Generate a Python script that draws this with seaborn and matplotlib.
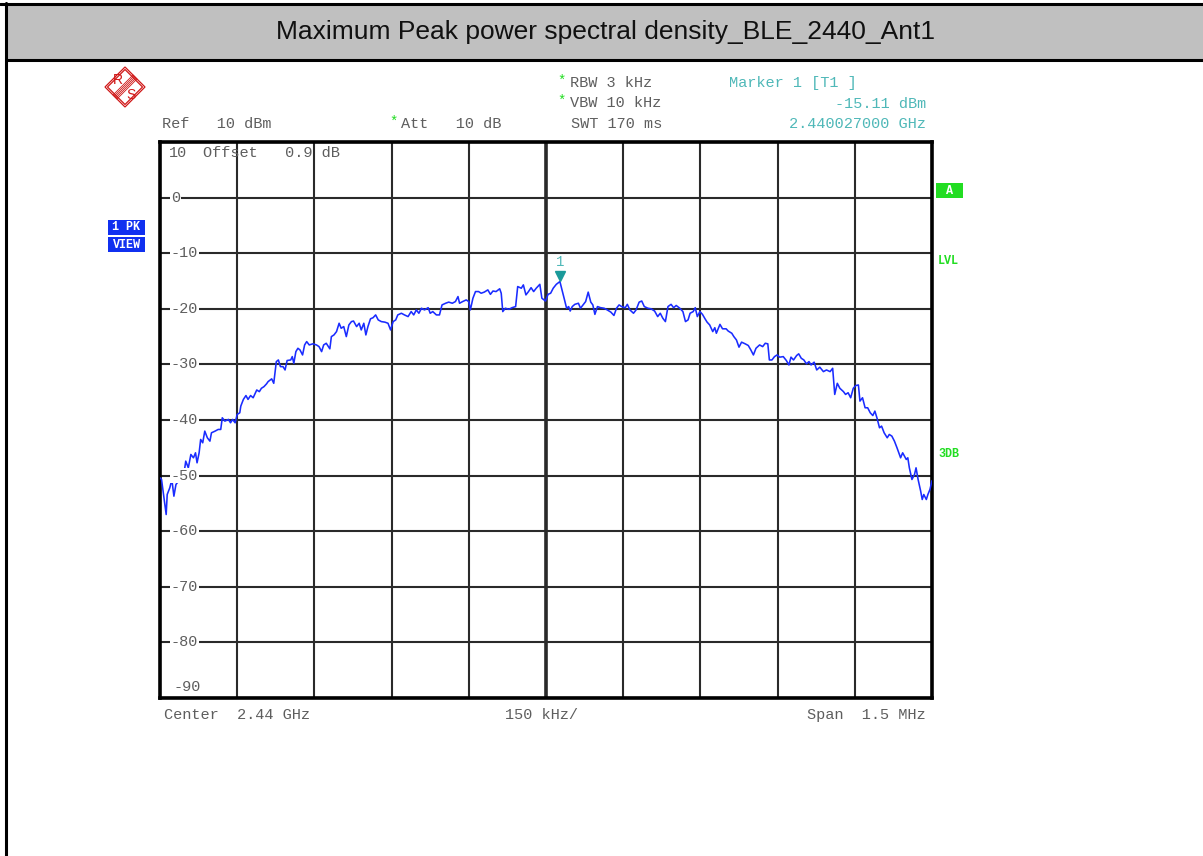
import numpy as np
import seaborn as sns
import matplotlib.pyplot as plt
from matplotlib.patches import Rectangle, Polygon
from matplotlib.lines import Line2D
from matplotlib.transforms import blended_transform_factory, offset_copy

# offset from the 2.44 GHz centre, kHz
freq_khz = [
    -750, -747, -738, -736, -731, -727, -723, -719, -714, -710,
    -705, -700, -695, -690, -685, -681, -678, -674, -671, -667,
    -663, -658, -653, -650, -643, -637, -632, -629, -624, -617,
    -613, -609, -604, -600, -595, -593, -588, -583, -579, -574,
    -569, -562, -557, -553, -548, -543, -540, -533, -529, -524,
    -520, -516, -511, -507, -503, -496, -493, -490, -486, -482,
    -478, -473, -469, -465, -460, -453, -446, -441, -436, -432,
    -427, -420, -417, -412, -407, -402, -398, -393, -388, -383,
    -378, -374, -368, -363, -359, -354, -350, -346, -341, -336,
    -331, -326, -320, -313, -307, -302, -297, -292, -288, -281,
    -275, -268, -262, -257, -252, -247, -242, -236, -229, -225,
    -220, -213, -207, -202, -195, -189, -182, -176, -171, -168,
    -162, -155, -150, -147, -142, -137, -131, -126, -120, -113,
    -108, -103, -97, -90, -87, -84, -79, -72, -66, -59,
    -55, -48, -44, -39, -34, -29, -24, -19, -12, -8,
    -1, 4, 9, 14, 20, 27, 32, 36, 40, 44,
    47, 51, 56, 63, 67, 72, 77, 82, 87, 91,
    95, 100, 106, 113, 119, 126, 132, 137, 142, 147,
    154, 158, 163, 170, 175, 181, 186, 191, 198, 204,
    211, 217, 222, 227, 232, 237, 243, 248, 253, 260,
    266, 271, 276, 280, 286, 290, 294, 299, 304, 309,
    313, 318, 324, 328, 331, 338, 343, 350, 354, 361,
    365, 370, 375, 380, 387, 393, 398, 403, 408, 415,
    421, 426, 431, 434, 439, 444, 449, 454, 461, 467,
    472, 476, 481, 487, 491, 496, 501, 506, 511, 515,
    521, 526, 532, 539, 545, 552, 557, 561, 566, 571,
    578, 582, 587, 592, 597, 602, 607, 610, 615, 620,
    625, 630, 635, 639, 643, 648, 652, 657, 663, 667,
    672, 677, 682, 689, 693, 700, 703, 706, 711, 716,
    719, 723, 728, 731, 734, 739, 742, 746, 750,
]

# trace 1, max peak, dBm
level_dbm = [
    -50.4, -50.7, -57.0, -53.4, -52.2, -50.7, -53.7, -51.6, -51.0, -50.1,
    -50.7, -47.4, -48.6, -46.2, -46.8, -45.9, -47.7, -45.9, -43.5, -44.1,
    -42.0, -43.2, -43.8, -42.3, -42.0, -41.7, -41.7, -39.6, -40.2, -39.9,
    -40.5, -39.9, -40.5, -39.0, -38.7, -37.5, -36.3, -35.6, -36.3, -35.6,
    -36.0, -34.6, -34.9, -34.3, -34.0, -33.5, -33.1, -32.6, -33.4, -29.5,
    -29.2, -30.4, -30.4, -31.0, -29.3, -29.2, -28.6, -29.8, -27.7, -27.1,
    -27.4, -28.3, -26.5, -25.9, -26.5, -26.3, -26.5, -26.8, -27.7, -26.5,
    -26.2, -27.2, -25.0, -24.7, -24.1, -22.6, -23.5, -23.2, -25.0, -22.9,
    -22.3, -22.2, -23.2, -22.6, -23.8, -22.6, -24.7, -23.2, -21.8, -21.6,
    -21.1, -22.0, -22.3, -22.4, -22.6, -23.8, -22.3, -22.0, -21.1, -20.8,
    -21.1, -21.4, -20.5, -21.1, -20.2, -20.8, -19.9, -20.2, -19.8, -20.8,
    -20.5, -21.1, -21.1, -19.3, -19.0, -18.8, -19.0, -18.7, -17.8, -19.0,
    -18.7, -18.4, -18.7, -20.2, -18.1, -16.9, -16.9, -17.2, -17.0, -16.6,
    -17.4, -16.8, -16.9, -16.4, -17.2, -20.5, -19.9, -20.1, -19.8, -19.6,
    -16.0, -16.3, -15.7, -17.5, -16.9, -16.2, -16.9, -16.3, -15.6, -18.1,
    -18.6, -17.4, -17.2, -16.3, -15.6, -15.1, -16.9, -18.4, -19.9, -19.6,
    -20.4, -19.6, -19.2, -19.0, -19.9, -19.3, -18.7, -17.0, -18.8, -19.3,
    -21.0, -19.6, -19.8, -19.9, -20.2, -20.6, -21.2, -19.9, -19.3, -19.6,
    -19.8, -19.2, -20.2, -20.8, -20.2, -18.8, -18.6, -19.6, -19.9, -20.0,
    -20.4, -21.4, -20.8, -21.7, -22.3, -19.6, -19.2, -19.8, -19.4, -19.9,
    -20.5, -22.3, -22.0, -20.8, -20.5, -19.8, -21.4, -20.5, -21.0, -21.8,
    -22.4, -22.9, -24.1, -23.4, -24.4, -22.8, -23.6, -23.6, -24.0, -24.4,
    -25.0, -25.6, -26.9, -26.0, -26.3, -26.6, -27.4, -28.3, -27.1, -26.5,
    -26.8, -26.2, -26.3, -29.2, -29.2, -28.6, -28.3, -28.7, -28.6, -29.3,
    -30.1, -28.7, -29.2, -28.4, -28.1, -28.9, -29.2, -29.9, -29.5, -30.1,
    -29.6, -31.0, -30.5, -31.3, -31.0, -31.3, -30.7, -35.4, -33.4, -34.3,
    -34.9, -35.4, -35.1, -36.0, -34.3, -33.8, -33.7, -36.6, -36.0, -37.8,
    -37.8, -38.7, -39.2, -38.4, -39.6, -41.4, -41.1, -42.3, -43.2, -42.6,
    -42.9, -43.8, -45.0, -46.8, -45.9, -47.1, -46.8, -48.6, -50.7, -49.8,
    -48.6, -50.7, -52.8, -54.3, -53.4, -54.3, -53.4, -52.5, -50.9,
]

y_ticks = [10, 0, -10, -20, -30, -40, -50, -60, -70, -80, -90]
x_ticks = list(range(-750, 751, 150))

W, H = 1203, 856
mono = ["Liberation Mono", "DejaVu Sans Mono"]
grey_txt = "#5e5e5e"
teal = "#4fb8b8"
green = "#22dd22"
blue = "#1030f0"

sns.set_style("white")
plt.rcParams["font.family"] = ["Liberation Sans", "DejaVu Sans"]

fig = plt.figure(figsize=(W / 100, H / 100), dpi=100)
fig.patch.set_facecolor("white")


def fx(px):
    return px / W


def fy(py):
    return 1 - py / H


# title bar and frame
fig.patches.append(Rectangle((fx(6), fy(59)), fx(W) - fx(6), fy(4) - fy(59),
                             transform=fig.transFigure, facecolor="#c0c0c0",
                             edgecolor="none", zorder=0))
fig.lines.append(Line2D([0, 1], [fy(3.5), fy(3.5)], transform=fig.transFigure, color="black", lw=2.2))
fig.lines.append(Line2D([fx(6), 1], [fy(59.5), fy(59.5)], transform=fig.transFigure, color="black", lw=2.2))
fig.lines.append(Line2D([fx(6), fx(6)], [fy(3), 0], transform=fig.transFigure, color="black", lw=2.2))
fig.text(fx(606), fy(32), "Maximum Peak power spectral density_BLE_2440_Ant1",
         ha="center", va="center", fontsize=19, color="#111111")

ax = fig.add_axes([fx(160), fy(698), fx(932) - fx(160), fy(142) - fy(698)])
sns.lineplot(x=freq_khz, y=level_dbm, ax=ax, sort=False, estimator=None,
             color="#1a2cff", lw=1.15, zorder=4)

ax.set_xlim(-750, 750)
ax.set_ylim(-90, 10)
ax.set_xticks(x_ticks)
ax.set_yticks(y_ticks)
ax.set_xticklabels([])
ax.set_yticklabels([])
ax.tick_params(length=0)
ax.grid(True, color="#2a2a2a", lw=1.5)
ax.axvline(0, color="#2a2a2a", lw=2.6, zorder=2)
for s in ax.spines.values():
    s.set_color("black")
    s.set_linewidth(2.6)

# level labels sit inside the grid
trans = blended_transform_factory(ax.transAxes, ax.transData)
for v in y_ticks:
    if v == 10:
        ax.text(0.012, v - 2.0, str(v), transform=trans, ha="left", va="center",
                family=mono, fontsize=11, color=grey_txt, zorder=5)
    elif v == -90:
        ax.text(0.018, v + 1.9, str(v), transform=trans, ha="left", va="center",
                family=mono, fontsize=11, color=grey_txt, zorder=5)
    else:
        ax.text(0.014, v, str(v), transform=trans, ha="left", va="center",
                family=mono, fontsize=11, color=grey_txt, zorder=5,
                bbox=dict(facecolor="white", edgecolor="none", pad=0.6))
ax.text(0.056, 8.0, "Offset   0.9 dB", transform=trans, ha="left", va="center",
        family=mono, fontsize=11, color=grey_txt, zorder=5)

# marker 1 on the trace maximum
i_pk = int(np.argmax(level_dbm))
ax.plot([freq_khz[i_pk]], [level_dbm[i_pk]], marker="v", ms=6.5, color="#1a9a9a", ls="none",
        zorder=6, transform=offset_copy(ax.transData, fig=fig, y=4, units="points"))
ax.annotate("1", xy=(freq_khz[i_pk], level_dbm[i_pk]), xytext=(0, 14), textcoords="offset points",
            ha="center", va="center", family=mono, fontsize=10, color=teal, zorder=6)

# header settings
hdr = dict(family=mono, fontsize=11, va="center")
fig.text(fx(162), fy(124), "Ref   10 dBm", color=grey_txt, **hdr)
fig.text(fx(389), fy(122), "*", color=green, family=mono, fontsize=10, va="center")
fig.text(fx(401), fy(124), "Att   10 dB", color=grey_txt, **hdr)
fig.text(fx(557), fy(81), "*", color=green, family=mono, fontsize=10, va="center")
fig.text(fx(570), fy(83), "RBW 3 kHz", color=grey_txt, **hdr)
fig.text(fx(557), fy(101), "*", color=green, family=mono, fontsize=10, va="center")
fig.text(fx(570), fy(103), "VBW 10 kHz", color=grey_txt, **hdr)
fig.text(fx(571), fy(124), "SWT 170 ms", color=grey_txt, **hdr)
fig.text(fx(729), fy(83), "Marker 1 [T1 ]", color=teal, **hdr)
fig.text(fx(926), fy(104), "-15.11 dBm", color=teal, ha="right", **hdr)
fig.text(fx(926), fy(124), "2.440027000 GHz", color=teal, ha="right", **hdr)

# footer
fig.text(fx(164), fy(715), "Center  2.44 GHz", color=grey_txt, **hdr)
fig.text(fx(505), fy(715), "150 kHz/", color=grey_txt, **hdr)
fig.text(fx(926), fy(715), "Span  1.5 MHz", color=grey_txt, ha="right", **hdr)

# side annotations
for y0, lab in [(220, "1 PK"), (237, "VIEW")]:
    fig.patches.append(Rectangle((fx(108), fy(y0 + 15)), fx(145) - fx(108), fy(y0) - fy(y0 + 15),
                                 transform=fig.transFigure, facecolor=blue, edgecolor="none"))
    fig.text(fx(126.5), fy(y0 + 7.5), lab, color="white", ha="center", va="center",
             family=mono, fontsize=8.5, weight="bold")
fig.patches.append(Rectangle((fx(936), fy(198)), fx(963) - fx(936), fy(183) - fy(198),
                             transform=fig.transFigure, facecolor=green, edgecolor="none"))
fig.text(fx(949.5), fy(190.5), "A", color="white", ha="center", va="center",
         family=mono, fontsize=8.5, weight="bold")
fig.text(fx(938), fy(261), "LVL", color=green, va="center", family=mono, fontsize=8.5, weight="bold")
fig.text(fx(938), fy(454), "3DB", color=green, va="center", family=mono, fontsize=8.5, weight="bold")

# R&S logo
cx, cy, r = 125, 87, 20
red = "#d01818"
for rr in (r, r - 2.5):
    fig.patches.append(Polygon([(fx(cx), fy(cy - rr)), (fx(cx + rr), fy(cy)),
                                (fx(cx), fy(cy + rr)), (fx(cx - rr), fy(cy))],
                               closed=True, transform=fig.transFigure, fill=False,
                               edgecolor=red, lw=0.9))
for d in (-2, -1, 0, 1, 2):
    fig.lines.append(Line2D([fx(cx + 10 + d), fx(cx - 10 + d)], [fy(cy - 10 + d), fy(cy + 10 + d)],
                            transform=fig.transFigure, color=red, lw=0.6))
fig.text(fx(cx - 7), fy(cy - 7), "R", color=red, ha="center", va="center", fontsize=10)
fig.text(fx(cx + 6), fy(cy + 8), "S", color=red, ha="center", va="center", fontsize=10)

fig.savefig("out.png", dpi=100, facecolor="white")
